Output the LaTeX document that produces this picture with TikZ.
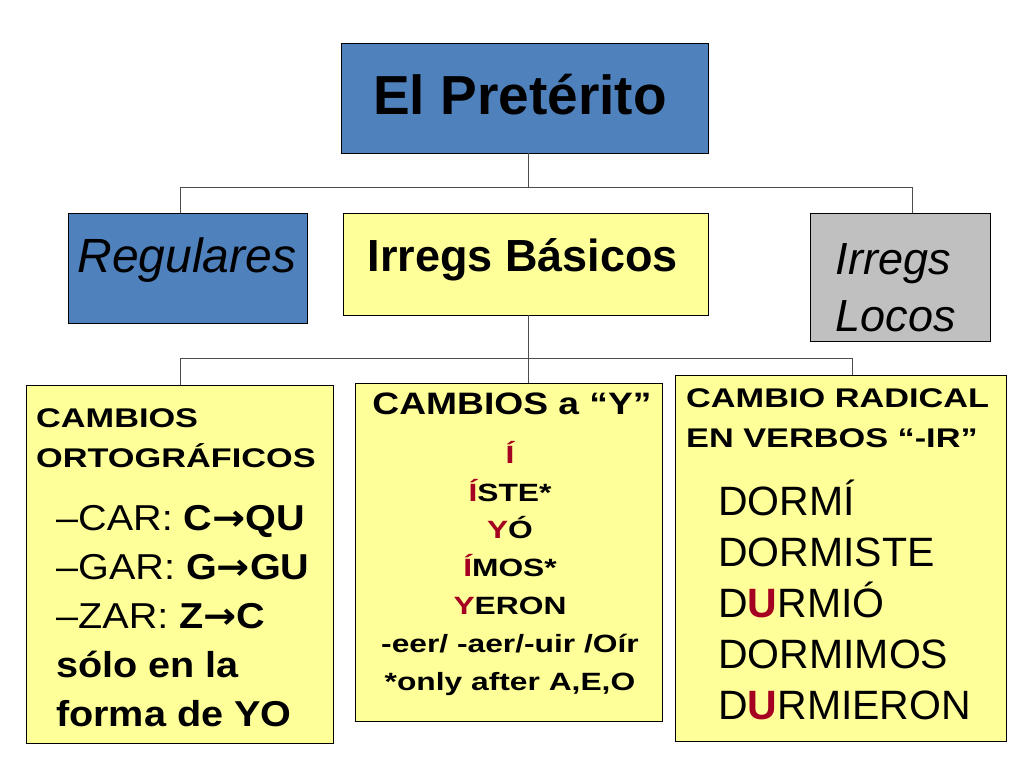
\documentclass[tikz,border=0pt]{standalone}
\usepackage{fontspec}
\setmainfont{Liberation Sans}
\newfontfamily\arrfont{DejaVu Sans}
\definecolor{bluebox}{HTML}{4F81BD}
\definecolor{yel}{HTML}{FFFF99}
\definecolor{gry}{HTML}{C0C0C0}
\definecolor{red1}{HTML}{A50021}
\newcommand{\ar}{{\arrfont\bfseries →}}
\newcommand{\sx}[1]{\scalebox{1.27}[1]{#1}}
\newcommand{\sy}[1]{\scalebox{1.1}[1]{#1}}
\begin{document}
\begin{tikzpicture}[x=1pt,y=-1pt,
  box/.style={draw=black,line width=0.8pt,inner sep=0pt},
  con/.style={draw=black!70,line width=0.8pt}]
\useasboundingbox (0,0) rectangle (1024,768);
\draw[box,fill=bluebox] (341,43) rectangle (708,153);
\node[font=\fontsize{55}{60}\selectfont\bfseries] (top) at (520,95) {El Pretérito};
\coordinate (topb) at (528,153);
\draw[box,fill=bluebox] (68,213) rectangle (307,323);
\node[font=\fontsize{48}{52}\selectfont\itshape] (reg) at (187,260) {Regulares};
\draw[box,fill=yel] (343,213) rectangle (708,315);
\node[font=\fontsize{45}{50}\selectfont\bfseries] (irb) at (523,260) {Irregs Básicos};
\draw[box,fill=gry] (810,213) rectangle (990,341);
\node[anchor=west,align=left,font=\fontsize{45}{57}\selectfont\itshape] (loc) at (832,288) {Irregs\\Locos};
\draw[con] (528,153) -- (528,187) (180,213) -- (180,187) -- (912,187) -- (912,213);
\draw[con] (528,315) -- (528,358) (180,385) -- (180,358) -- (852,358) -- (852,375) (528,358) -- (528,383);
% left
\draw[box,fill=yel] (26,385) rectangle (333,743);
\node[anchor=north west,align=left,inner sep=0pt,font=\fontsize{27}{40}\selectfont\bfseries] (l1) at (36,408) {\sx{CAMBIOS}\\\sx{ORTOGRÁFICOS}};
\node[anchor=north west,align=left,inner sep=0pt,font=\fontsize{36}{49}\selectfont] (l2) at (56,505) {\sy{–CAR: \textbf{C\ar QU}}\\\sy{–GAR: \textbf{G\ar GU}}\\\sy{–ZAR: \textbf{Z\ar C}}\\\sy{\textbf{sólo en la}}\\\sy{\textbf{forma de YO}}};
% middle
\draw[box,fill=yel] (355,383) rectangle (662,721);
\node[anchor=north,inner sep=0pt,font=\fontsize{31}{34}\selectfont\bfseries] (m1) at (512,393) {\scalebox{1.2}[1]{CAMBIOS a “Y”}};
\node[anchor=north,align=center,inner sep=0pt,font=\fontsize{25}{37.8}\selectfont\bfseries] (m2) at (510,441) {\sx{\textcolor{red1}{Í}}\\\sx{\textcolor{red1}{Í}STE*}\\\sx{\textcolor{red1}{Y}Ó}\\\sx{\textcolor{red1}{Í}MOS*}\\\sx{\textcolor{red1}{Y}ERON}\\\sx{-eer/ -aer/-uir /Oír}\\\sx{*only after A,E,O}};
% right
\draw[box,fill=yel] (675,375) rectangle (1006,741);
\node[anchor=north west,align=left,inner sep=0pt,font=\fontsize{27}{40}\selectfont\bfseries] (r1) at (686,388) {\sx{CAMBIO RADICAL}\\\sx{EN VERBOS “-IR”}};
\node[anchor=north west,align=left,inner sep=0pt,font=\fontsize{41}{51}\selectfont] (r2) at (718,480) {DORMÍ\\DORMISTE\\D\textcolor{red1}{\textbf{U}}RMIÓ\\DORMIMOS\\D\textcolor{red1}{\textbf{U}}RMIERON};
\end{tikzpicture}
\end{document}
